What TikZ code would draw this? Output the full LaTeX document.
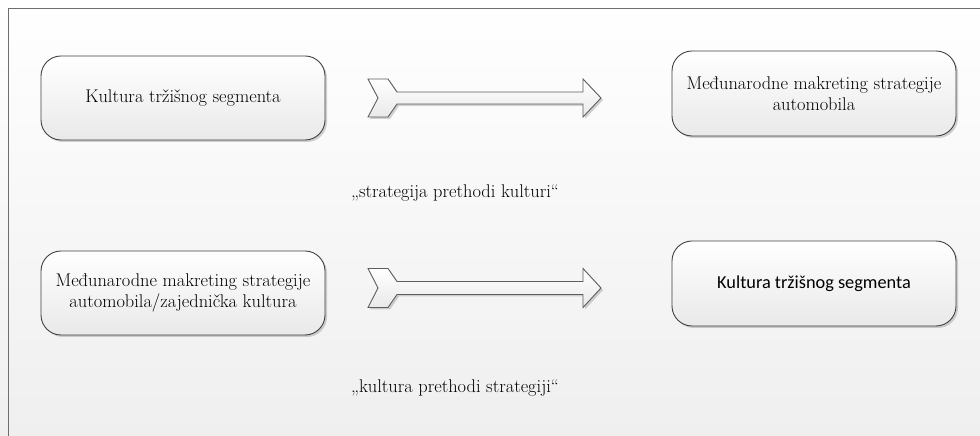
\documentclass[tikz,border=0pt]{standalone}
\usepackage{fontspec}
\newfontfamily\calib{Carlito}
\usetikzlibrary{shadows}
\definecolor{bordc}{HTML}{404040}
\definecolor{framec}{HTML}{6E6E6E}
\definecolor{bgbot}{HTML}{EFEFEF}
\definecolor{boxbot}{HTML}{E9E9E9}
\newcommand{\serfont}{\rmfamily\fontsize{18.4}{21}\selectfont\addfontfeatures{FakeBold=0.6}}
\tikzset{
  rbox/.style={draw=bordc, line width=0.9pt, rounded corners=20pt,
    minimum width=284pt, minimum height=84pt, inner sep=0pt,
    top color=white, bottom color=boxbot, align=center,
    font=\serfont,
    drop shadow={shadow xshift=2pt, shadow yshift=-2pt, opacity=0.35, fill=gray}},
  blockarrow/.style={draw=bordc!85, line width=0.9pt, line join=miter,
    top color=white, bottom color=boxbot,
    drop shadow={shadow xshift=2pt, shadow yshift=-2pt, opacity=0.35, fill=gray}},
  lbl/.style={font=\serfont, inner sep=0pt}
}
\begin{document}
\begin{tikzpicture}[x=1pt,y=1pt]
\useasboundingbox (0,0) rectangle (980,436);
\clip (0,0) rectangle (980,436);
\shade[top color=white, bottom color=bgbot] (0,0) rectangle (980,436);
\draw[framec, line width=1.2pt] (8.5,-20) -- (8.5,427.5) -- (1000,427.5);

\node[rbox] (b1) at (183,338) {Kultura tržišnog segmenta};
\node[rbox, minimum height=85pt] (b2) at (814,342.5) {Međunarodne makreting strategije\\automobila};
\node[rbox] (b3) at (183,143) {Međunarodne makreting strategije\\automobila/zajednička kultura};
\node[rbox, minimum height=85pt, font=\calib\fontsize{18.3}{21}\selectfont] (b4) at (814,152.5) {Kultura tržišnog segmenta};

\coordinate (t1) at (368,338);
\coordinate (t2) at (368,148);
\path[blockarrow] (t1) ++(0,19) -- ++(20,0) -- ++(9,-13) -- ++(186,0) -- ++(0,13) -- ++(18,-19) -- ++(-18,-19) -- ++(0,13) -- ++(-186,0) -- ++(-9,-13) -- ++(-20,0) -- ++(10,19) -- cycle;
\path[blockarrow] (t2) ++(0,19.5) -- ++(20,0) -- ++(9,-13) -- ++(186,0) -- ++(0,13) -- ++(18,-19.5) -- ++(-18,-19.5) -- ++(0,13) -- ++(-186,0) -- ++(-9,-13) -- ++(-20,0) -- ++(10,19.5) -- cycle;

\node[lbl] (l1) at (455,243) {„strategija prethodi kulturi“};
\node[lbl] (l2) at (455,48) {„kultura prethodi strategiji“};
\end{tikzpicture}
\end{document}
